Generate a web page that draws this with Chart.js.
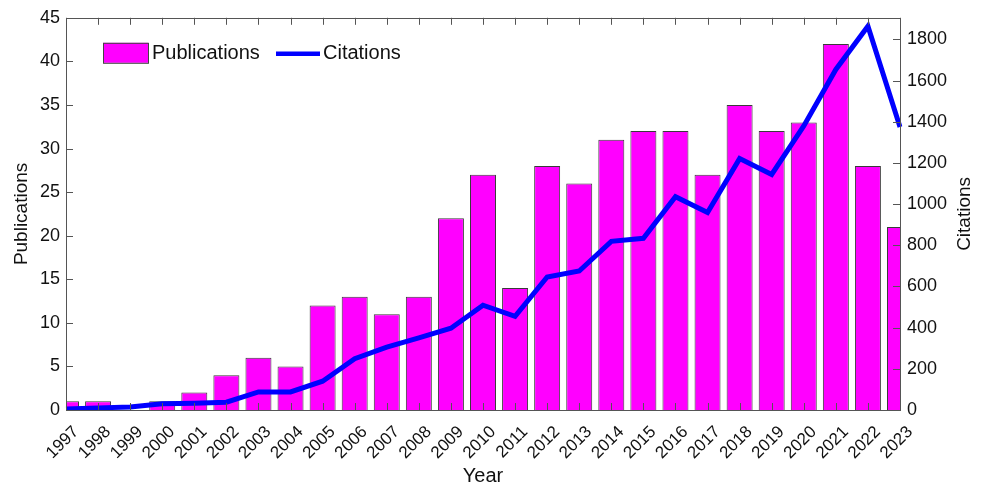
<!DOCTYPE html>
<html>
<head>
<meta charset="utf-8">
<script src="https://cdn.jsdelivr.net/npm/chart.js@4.4.1/dist/chart.umd.min.js"></script>
<style>
  html, body { margin: 0; padding: 0; background: #fff; }
  #wrap { width: 986px; height: 488px; }
</style>
</head>
<body>
<div id="wrap"><canvas id="grafico" width="986" height="488"></canvas></div>
<script>
// datos
const years = ["1997","1998","1999","2000","2001","2002","2003","2004","2005","2006","2007","2008","2009",
  "2010","2011","2012","2013","2014","2015","2016","2017","2018","2019","2020","2021","2022","2023"];
const publications = [1, 1, 0, 1, 2, 4, 6, 5, 12, 13, 11, 13, 22, 27, 14, 28, 26, 31, 32, 32, 27, 35, 32, 33, 42, 28, 21];
const citations = [5, 10, 15, 30, 33, 38, 88, 88, 140, 249, 305, 350, 397, 509, 455, 646, 675, 819, 834, 1036, 959,
  1221, 1144, 1380, 1654, 1864, 1375];
const pubTicks = [0, 5, 10, 15, 20, 25, 30, 35, 40, 45];
const citTicks = [0, 200, 400, 600, 800, 1000, 1200, 1400, 1600, 1800];

const FONT = "Arial, 'Liberation Sans', sans-serif";
const boxColor = "#555";

// Caja, marcas internas, titulo derecho y leyenda estilo MATLAB
const marcoPlugin = {
  id: "marco",
  afterDraw(chart) {
    const ctx = chart.ctx;
    const a = chart.chartArea;
    const x = chart.scales.x, y = chart.scales.y, y1 = chart.scales.y1;
    const tl = 7;
    ctx.save();
    ctx.strokeStyle = boxColor;
    ctx.lineWidth = 1;
    ctx.beginPath();
    years.forEach((yr, i) => {
      const px = Math.round(x.getPixelForValue(i)) + 0.5;
      ctx.moveTo(px, a.bottom); ctx.lineTo(px, a.bottom - tl);
      ctx.moveTo(px, a.top); ctx.lineTo(px, a.top + tl);
    });
    pubTicks.forEach((v) => {
      const py = Math.round(y.getPixelForValue(v)) + 0.5;
      ctx.moveTo(a.left, py); ctx.lineTo(a.left + tl, py);
    });
    citTicks.forEach((v) => {
      const py = Math.round(y1.getPixelForValue(v)) + 0.5;
      ctx.moveTo(a.right, py); ctx.lineTo(a.right - tl, py);
    });
    ctx.stroke();
    ctx.strokeRect(Math.round(a.left) + 0.5, Math.round(a.top) + 0.5,
      Math.round(a.right - a.left), Math.round(a.bottom - a.top));

    // titulo del eje derecho (leido de abajo hacia arriba, como en MATLAB)
    ctx.fillStyle = "#111";
    ctx.font = "19px " + FONT;
    ctx.textAlign = "center";
    ctx.textBaseline = "middle";
    ctx.translate(965, (a.top + a.bottom) / 2);
    ctx.rotate(-Math.PI / 2);
    ctx.fillText("Citations", 0, 0);
    ctx.setTransform(1, 0, 0, 1, 0, 0);

    // leyenda
    const lx = a.left + 37, ly = a.top + 25;
    ctx.fillStyle = "#ff00ff";
    ctx.fillRect(lx, ly, 45, 20);
    ctx.strokeStyle = "#444";
    ctx.strokeRect(lx + 0.5, ly + 0.5, 45, 20);
    ctx.fillStyle = "#111";
    ctx.font = "20px " + FONT;
    ctx.textAlign = "left";
    ctx.fillText("Publications", lx + 49, ly + 11);
    ctx.strokeStyle = "#0000ff";
    ctx.lineWidth = 4.5;
    ctx.beginPath();
    ctx.moveTo(lx + 173, ly + 11); ctx.lineTo(lx + 217, ly + 11);
    ctx.stroke();
    ctx.fillText("Citations", lx + 220, ly + 11);
    ctx.restore();
  },
};

new Chart(document.getElementById("grafico").getContext("2d"), {
  data: {
    labels: years,
    datasets: [
      {
        type: "line",
        label: "Citations",
        data: citations,
        yAxisID: "y1",
        borderColor: "#0000ff",
        borderWidth: 5,
        pointRadius: 0,
        tension: 0,
        order: 0,
      },
      {
        type: "bar",
        label: "Publications",
        data: publications,
        yAxisID: "y",
        backgroundColor: "#ff00ff",
        borderColor: "#3a3a3a",
        borderWidth: 1,
        barPercentage: 0.81,
        categoryPercentage: 1,
        clip: 0,
        order: 1,
      },
    ],
  },
  options: {
    responsive: false,
    animation: false,
    devicePixelRatio: 1,
    layout: { padding: { top: 15, left: 0, right: 0, bottom: 0 } },
    plugins: { legend: { display: false }, tooltip: { enabled: false } },
    scales: {
      x: {
        type: "category",
        offset: false,
        grid: { display: false, offset: false, drawTicks: false },
        border: { display: false },
        ticks: {
          autoSkip: false,
          maxRotation: 45,
          minRotation: 45,
          padding: 12,
          labelOffset: 10,
          color: "#111",
          font: { family: FONT, size: 17 },
        },
        title: { display: true, text: "Year", color: "#111", font: { family: FONT, size: 20 }, padding: { top: 0, bottom: 0 } },
        afterFit(s) { s.height = 78; },
      },
      y: {
        position: "left",
        min: 0,
        max: 45,
        grid: { display: false, drawTicks: false },
        border: { display: false },
        ticks: { stepSize: 5, padding: 6, color: "#111", font: { family: FONT, size: 18 } },
        title: { display: true, text: "Publications", color: "#111", font: { family: FONT, size: 19 }, padding: { top: 10, bottom: 0 } },
        afterFit(s) { s.width = 66; },
      },
      y1: {
        position: "right",
        min: 0,
        max: 1905,
        grid: { display: false, drawTicks: false },
        border: { display: false },
        afterBuildTicks(s) { s.ticks = citTicks.map((v) => ({ value: v })); },
        ticks: { padding: 7, color: "#111", font: { family: FONT, size: 18 }, callback: (v) => String(v) },
        afterFit(s) { s.width = 86; },
      },
    },
  },
  plugins: [marcoPlugin],
});
</script>
</body>
</html>
